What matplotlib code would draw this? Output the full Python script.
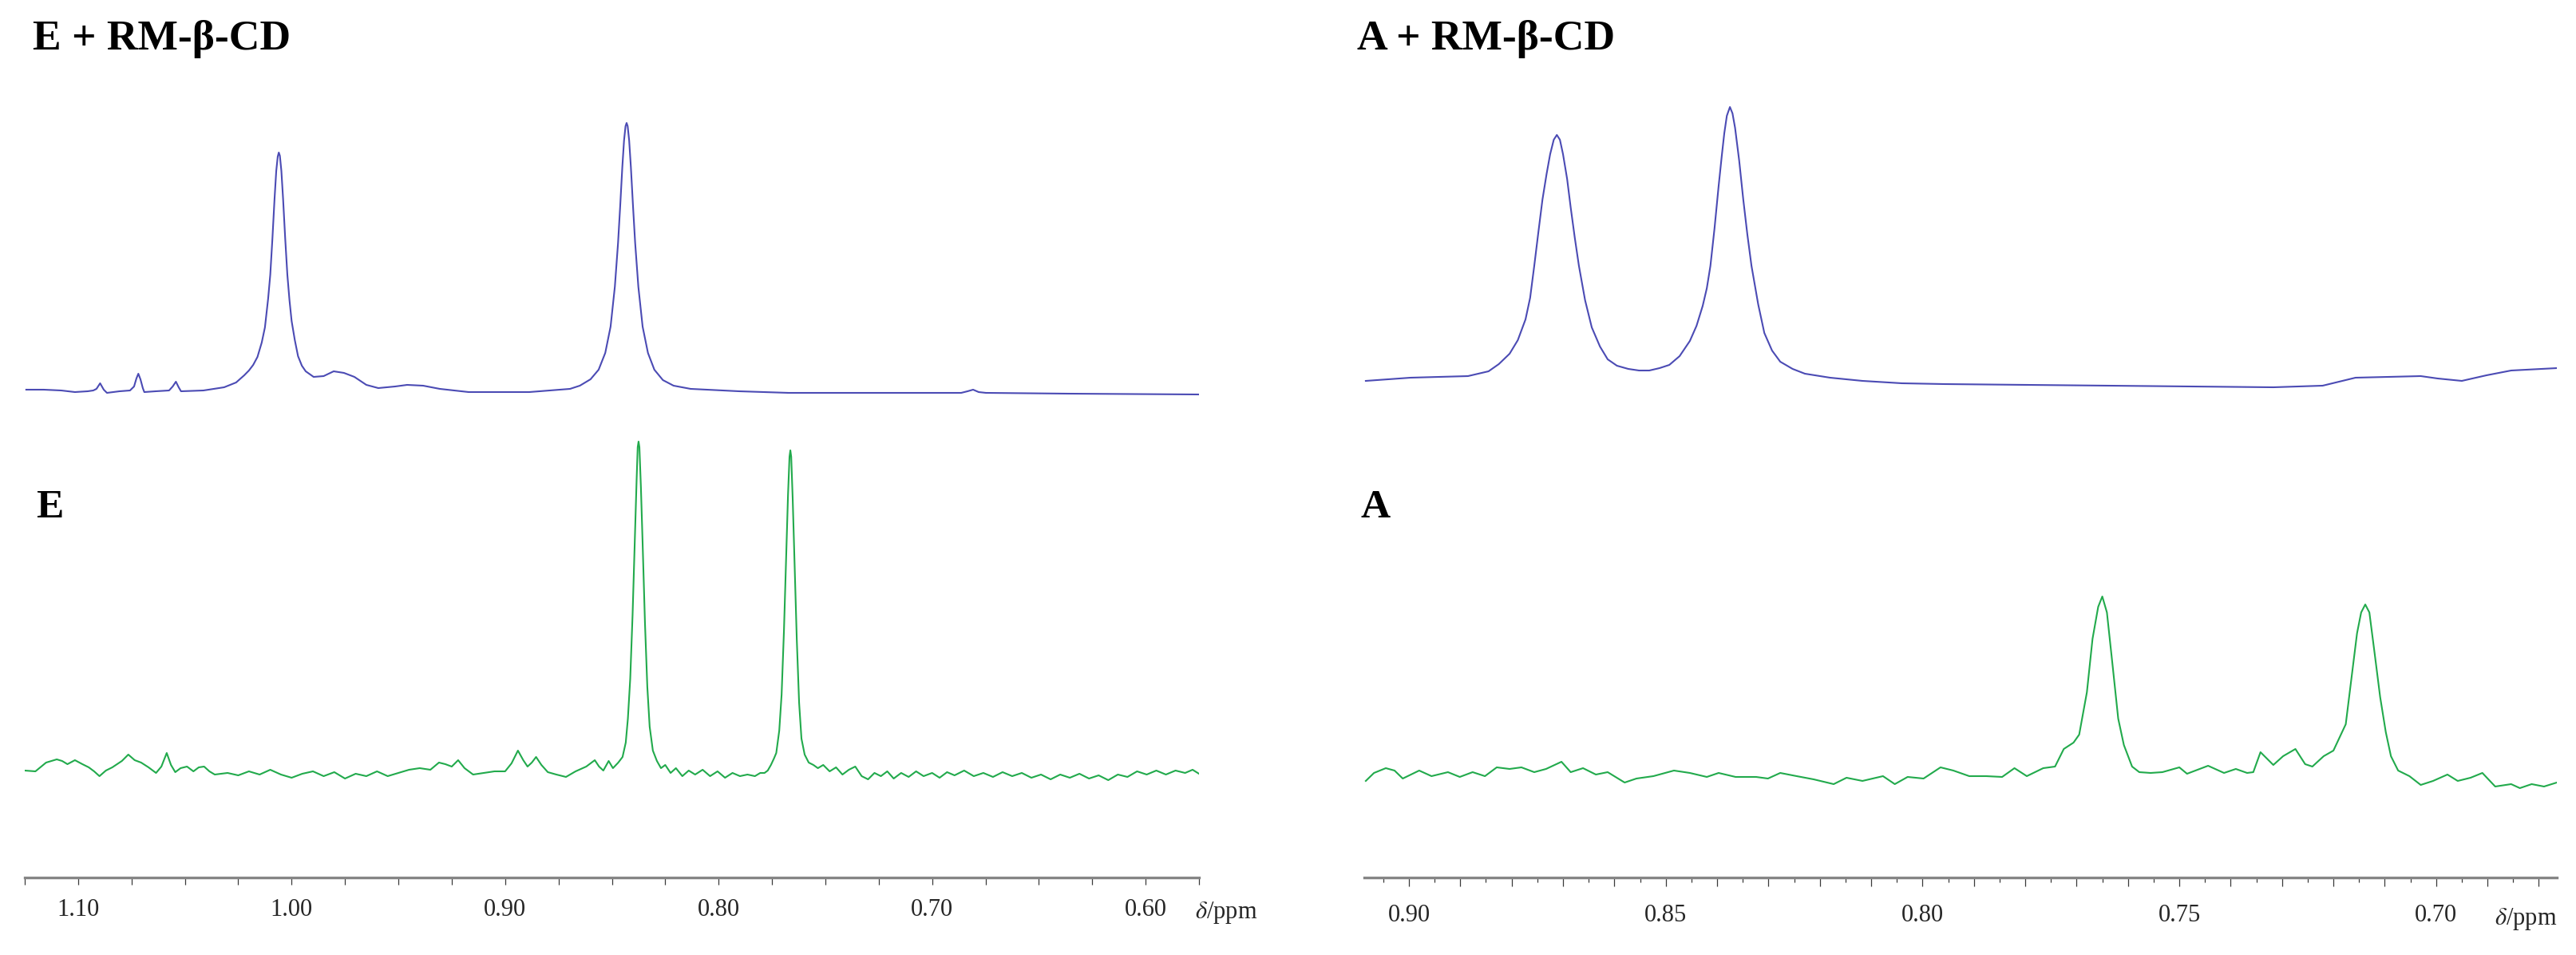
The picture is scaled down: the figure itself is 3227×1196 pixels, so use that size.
import numpy as np
import matplotlib
matplotlib.use("Agg")
import matplotlib.pyplot as plt
from matplotlib.ticker import FixedLocator, MultipleLocator, FuncFormatter

plt.rcParams['font.family'] = ['Liberation Serif', 'DejaVu Serif']
plt.rcParams['mathtext.fontset'] = 'stix'

# 1H NMR traces: (delta / ppm, intensity a.u. above baseline)
E_CD_TRACE = [
    (1.1243, 6), (1.1161, 6), (1.1079, 5), (1.1015, 3), (1.0955, 4), (1.0929, 5),
    (1.0914, 7), (1.0897, 14), (1.0880, 6), (1.0865, 2), (1.0806, 4), (1.0757, 5),
    (1.0738, 10), (1.0727, 20), (1.0718, 26), (1.0708, 19), (1.0697, 8), (1.0690, 3),
    (1.0637, 4), (1.0574, 5), (1.0557, 10), (1.0542, 16), (1.0529, 9), (1.0518, 4),
    (1.0413, 5), (1.0316, 9), (1.0260, 15), (1.0222, 24), (1.0200, 30), (1.0180, 37),
    (1.0160, 47), (1.0140, 65), (1.0125, 84), (1.0110, 120), (1.0100, 150),
    (1.0090, 195), (1.0080, 245), (1.0072, 280), (1.0065, 298), (1.0060, 303),
    (1.0055, 299), (1.0048, 280), (1.0040, 245), (1.0030, 195), (1.0020, 150),
    (1.0010, 118), (1.0000, 92), (0.9985, 68), (0.9970, 48), (0.9952, 36),
    (0.9934, 29), (0.9897, 22), (0.9850, 23), (0.9803, 29), (0.9755, 27), (0.9706, 22),
    (0.9650, 12), (0.9594, 8), (0.9515, 10), (0.9459, 12), (0.9384, 11), (0.9306, 7),
    (0.9171, 3), (0.8887, 3), (0.8696, 7), (0.8650, 11), (0.8600, 19), (0.8562, 31),
    (0.8531, 52), (0.8506, 85), (0.8486, 135), (0.8471, 190), (0.8461, 236),
    (0.8451, 285), (0.8443, 318), (0.8436, 336), (0.8431, 340), (0.8426, 336),
    (0.8419, 318), (0.8411, 285), (0.8401, 236), (0.8391, 190), (0.8376, 135),
    (0.8356, 85), (0.8331, 52), (0.8301, 31), (0.8261, 18), (0.8211, 11), (0.8131, 7),
    (0.7904, 4), (0.7672, 2), (0.7133, 2), (0.6864, 2), (0.6834, 4), (0.6808, 6),
    (0.6782, 3), (0.6748, 2), (0.6363, 1), (0.5750, 0),
]

E_TRACE = [
    (1.125, 13), (1.120, 12), (1.115, 23), (1.110, 27), (1.1075, 25), (1.105, 21),
    (1.1015, 26), (1.098, 21), (1.095, 17), (1.0925, 12), (1.090, 6), (1.087, 13),
    (1.084, 17), (1.0795, 25), (1.0765, 33), (1.0735, 26), (1.0705, 23), (1.067, 17),
    (1.0635, 10), (1.061, 18), (1.0585, 35), (1.0565, 20), (1.0545, 11), (1.052, 16),
    (1.049, 18), (1.046, 12), (1.0435, 17), (1.041, 18), (1.0385, 12), (1.036, 8),
    (1.030, 10), (1.025, 7), (1.020, 12), (1.015, 8), (1.010, 14), (1.005, 8),
    (1.000, 4), (0.995, 9), (0.990, 12), (0.985, 6), (0.980, 11), (0.975, 3),
    (0.970, 9), (0.965, 6), (0.960, 12), (0.955, 6), (0.950, 10), (0.945, 14),
    (0.940, 16), (0.935, 14), (0.931, 23), (0.928, 21), (0.925, 18), (0.922, 26),
    (0.919, 16), (0.915, 8), (0.910, 10), (0.905, 12), (0.900, 12), (0.897, 22),
    (0.894, 38), (0.8915, 26), (0.8895, 18), (0.8875, 23), (0.8855, 30), (0.883, 20),
    (0.880, 11), (0.876, 8), (0.8715, 5), (0.867, 12), (0.862, 18), (0.858, 26),
    (0.856, 18), (0.854, 13), (0.8515, 25), (0.8495, 16), (0.847, 23), (0.845, 30),
    (0.8435, 48), (0.8425, 78), (0.8414, 128), (0.8403, 208), (0.8392, 308),
    (0.8384, 378), (0.8379, 418), (0.8375, 425), (0.8371, 418), (0.8364, 368),
    (0.8356, 298), (0.8345, 198), (0.8334, 118), (0.8323, 68), (0.8308, 38),
    (0.8289, 25), (0.827, 16), (0.825, 20), (0.8225, 10), (0.820, 16), (0.817, 6),
    (0.814, 13), (0.811, 8), (0.8075, 14), (0.804, 6), (0.8005, 12), (0.797, 4),
    (0.7935, 10), (0.790, 6), (0.7865, 8), (0.783, 6), (0.7805, 10), (0.7785, 10),
    (0.777, 13), (0.7755, 20), (0.7741, 28), (0.773, 35), (0.7716, 63), (0.7705, 108),
    (0.7694, 188), (0.7683, 288), (0.7675, 358), (0.7668, 406), (0.7664, 414),
    (0.7660, 406), (0.7653, 353), (0.7645, 278), (0.7634, 178), (0.7623, 98),
    (0.7612, 53), (0.7597, 33), (0.7578, 23), (0.7556, 20), (0.7535, 16), (0.751, 20),
    (0.748, 12), (0.745, 17), (0.742, 8), (0.739, 14), (0.736, 18), (0.733, 6),
    (0.730, 2), (0.727, 10), (0.724, 6), (0.721, 12), (0.718, 3), (0.7145, 10),
    (0.711, 5), (0.7075, 12), (0.704, 6), (0.700, 10), (0.6965, 4), (0.693, 11),
    (0.6895, 7), (0.685, 13), (0.6805, 6), (0.676, 10), (0.6715, 5), (0.667, 11),
    (0.6625, 6), (0.658, 10), (0.6535, 4), (0.649, 8), (0.6445, 2), (0.640, 8),
    (0.6355, 4), (0.631, 9), (0.6265, 3), (0.622, 7), (0.6175, 1), (0.613, 8),
    (0.6085, 5), (0.604, 12), (0.5995, 8), (0.595, 13), (0.5905, 8), (0.586, 13),
    (0.5815, 10), (0.578, 14), (0.575, 9),
]

A_CD_TRACE = [
    (0.9084, 9), (0.8997, 13), (0.8885, 15), (0.8845, 21), (0.8825, 30), (0.8804, 43),
    (0.8788, 60), (0.8773, 86), (0.8764, 113), (0.8756, 153), (0.8748, 195),
    (0.8740, 236), (0.8732, 268), (0.8725, 293), (0.8718, 311), (0.8712, 317),
    (0.8706, 311), (0.8700, 293), (0.8692, 262), (0.8685, 226), (0.8677, 188),
    (0.8669, 153), (0.8657, 110), (0.8644, 76), (0.8628, 52), (0.8613, 36),
    (0.8595, 28), (0.8573, 24), (0.8552, 22), (0.8532, 22), (0.8512, 25), (0.8493, 29),
    (0.8473, 40), (0.8453, 59), (0.8440, 78), (0.8428, 103), (0.8420, 125),
    (0.8413, 153), (0.8405, 200), (0.8397, 253), (0.8391, 290), (0.8386, 319),
    (0.8381, 341), (0.8375, 352), (0.8370, 344), (0.8365, 326), (0.8357, 285),
    (0.8349, 236), (0.8341, 192), (0.8333, 153), (0.8320, 105), (0.8308, 69),
    (0.8293, 47), (0.8277, 33), (0.8253, 24), (0.8229, 18), (0.8180, 13), (0.8117, 9),
    (0.8040, 6), (0.7957, 5), (0.7797, 4), (0.7637, 3), (0.7317, 1), (0.7221, 3),
    (0.7157, 13), (0.7093, 14), (0.7030, 15), (0.6997, 12), (0.6950, 9), (0.6902, 16),
    (0.6854, 22), (0.6765, 25),
]

A_TRACE = [
    (0.9084, 12), (0.9068, 22), (0.9045, 28), (0.9028, 25), (0.9012, 15), (0.8980, 25),
    (0.8956, 18), (0.8924, 23), (0.8901, 17), (0.8876, 23), (0.8852, 18), (0.8829, 29),
    (0.8804, 27), (0.8781, 29), (0.8756, 23), (0.8733, 27), (0.8703, 36), (0.8685, 23),
    (0.8661, 28), (0.8636, 20), (0.8613, 23), (0.8580, 10), (0.8557, 15), (0.8524, 18),
    (0.8484, 25), (0.8453, 22), (0.8420, 17), (0.8397, 22), (0.8364, 17), (0.8324, 17),
    (0.8301, 15), (0.8277, 22), (0.8245, 18), (0.8212, 14), (0.8173, 8), (0.8148, 16),
    (0.8117, 12), (0.8077, 18), (0.8054, 8), (0.8029, 17), (0.7998, 15), (0.7965, 29),
    (0.7940, 25), (0.7909, 18), (0.7876, 18), (0.7845, 17), (0.7821, 28), (0.7797, 18),
    (0.7765, 28), (0.7742, 30), (0.7725, 52), (0.7706, 60), (0.7695, 70), (0.7680, 123),
    (0.7669, 190), (0.7658, 230), (0.7650, 243), (0.7641, 223), (0.7630, 157),
    (0.7619, 90), (0.7608, 57), (0.7592, 30), (0.7578, 23), (0.7556, 22), (0.7533, 23),
    (0.7500, 29), (0.7485, 21), (0.7444, 31), (0.7413, 22), (0.7390, 27), (0.7368, 22),
    (0.7356, 23), (0.7342, 48), (0.7317, 32), (0.7298, 43), (0.7274, 52), (0.7255, 33),
    (0.7241, 30), (0.7219, 43), (0.7200, 50), (0.7176, 83), (0.7165, 140),
    (0.7154, 197), (0.7146, 223), (0.7138, 233), (0.7130, 223), (0.7120, 173),
    (0.7109, 117), (0.7098, 73), (0.7088, 43), (0.7074, 25), (0.7052, 18), (0.7030, 7),
    (0.7006, 12), (0.6978, 20), (0.6958, 12), (0.6933, 16), (0.6910, 22), (0.6885, 5),
    (0.6854, 8), (0.6837, 3), (0.6814, 8), (0.6790, 5), (0.6765, 10),
]

TITLES_TOP = ["E + RM-\u03b2-CD", "A + RM-\u03b2-CD"]
TITLES_BOTTOM = ["E", "A"]
LEFT_TICKS = [1.10, 1.00, 0.90, 0.80, 0.70, 0.60]
RIGHT_TICKS = [0.90, 0.85, 0.80, 0.75, 0.70]

BLUE = "#4b4bb4"
GREEN = "#22aa4c"
W, H = 3227, 1196
AXIS_Y = 1099  # pixel row of the ppm axis line


def make_panel(fig, x0, x1, xlim):
    ax = fig.add_axes([x0 / W, (H - AXIS_Y) / H, (x1 - x0) / W, AXIS_Y / H])
    ax.set_xlim(*xlim)
    ax.set_ylim(0, AXIS_Y)
    ax.patch.set_alpha(0)
    for side in ("top", "left", "right"):
        ax.spines[side].set_visible(False)
    ax.spines["bottom"].set_color("#858585")
    ax.spines["bottom"].set_linewidth(2.4)
    ax.set_yticks([])
    ax.tick_params(axis="x", which="both", direction="out", color="#3a3a3a",
                   width=0.9, labelsize=22, labelcolor="#262626")
    return ax


def draw_trace(ax, trace, offset, color):
    ppm, inten = zip(*trace)
    ax.plot(ppm, np.array(inten) + offset, color=color, lw=1.5,
            solid_joinstyle="round")


fig = plt.figure(figsize=(W / 100, H / 100), dpi=100)

# left panel: E
ax_l = make_panel(fig, 31, 1502, (1.125, 0.575))
draw_trace(ax_l, E_CD_TRACE, AXIS_Y - 494, BLUE)
draw_trace(ax_l, E_TRACE, AXIS_Y - 978, GREEN)
ax_l.xaxis.set_major_locator(FixedLocator(LEFT_TICKS))
ax_l.xaxis.set_minor_locator(MultipleLocator(0.025))
ax_l.xaxis.set_major_formatter(FuncFormatter(lambda v, p: f"{v:.2f}"))
ax_l.tick_params(axis="x", which="both", length=6.5, pad=12)

# right panel: A
ax_r = make_panel(fig, 1709, 3203, (0.9087, 0.6765))
draw_trace(ax_r, A_CD_TRACE, AXIS_Y - 486, BLUE)
draw_trace(ax_r, A_TRACE, AXIS_Y - 990, GREEN)
ax_r.xaxis.set_major_locator(MultipleLocator(0.01))
ax_r.xaxis.set_minor_locator(MultipleLocator(0.005))
ax_r.xaxis.set_major_formatter(FuncFormatter(
    lambda v, p: f"{v:.2f}" if any(abs(v - t) < 1e-6 for t in RIGHT_TICKS) else ""))
ax_r.tick_params(axis="x", which="major", length=8, pad=16)
ax_r.tick_params(axis="x", which="minor", length=4)

# labels
for xpx, top, bottom in zip((41, 1700), TITLES_TOP, TITLES_BOTTOM):
    fig.text(xpx / W, 1 - 62 / H, top, fontsize=38.5, fontweight="bold",
             va="baseline", ha="left")
    fig.text(xpx / W + 4 / W, 1 - 648 / H, bottom, fontsize=37, fontweight="bold",
             va="baseline", ha="left")

fig.text(1497 / W, 1 - 1150 / H, r"$\delta$/ppm", fontsize=22, va="baseline",
         ha="left", color="#262626")
fig.text(3203 / W, 1 - 1158 / H, r"$\delta$/ppm", fontsize=22, va="baseline",
         ha="right", color="#262626")

fig.savefig("out.png", dpi=100)
